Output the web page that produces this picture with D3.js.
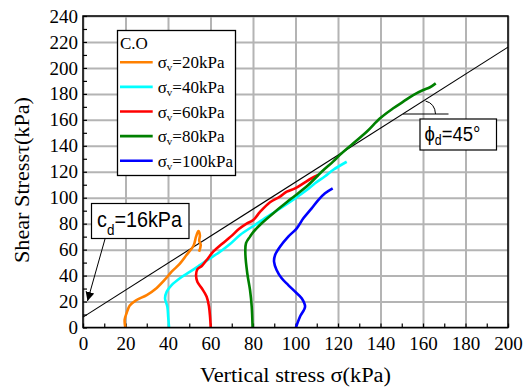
<!DOCTYPE html>
<html>
<head>
<meta charset="utf-8">
<script src="https://cdnjs.cloudflare.com/ajax/libs/d3/7.8.5/d3.min.js"></script>
<style>
  body { margin: 0; background: #fff; }
  svg { display: block; }
</style>
</head>
<body>
<div id="chart"></div>
<script>
// series: [sigma, tau] pairs
var s20 = [[19.9,0],[19.6,6],[20.5,11],[22,17],[25,21],[30,25],[34.7,30.5],[38.6,37],[41.7,43],[45.5,49],[48.8,56],[52,63],[53.2,70],[54.3,74.3],[55,71],[54.7,67],[55.4,63.5],[54.6,58.4]];
var s40 = [[40.5,0],[40.1,8],[39.7,16],[38.6,22.5],[39.4,27.6],[41.7,32.7],[45.6,38],[50.4,43],[55,48],[59.8,53.3],[64.5,58.4],[69.2,64.3],[73.9,71.3],[80.9,79],[86.4,85],[90.4,89.2],[99.8,99.5],[105.3,106],[109.2,111.1],[113.9,116.5],[117.8,121.5],[124.1,127.7]];
var s60 = [[60.1,0],[59.8,8],[59.3,16],[58.2,23.7],[55.9,30.2],[53.8,35.3],[53.2,40.4],[53.8,44.8],[55.9,47.4],[58.2,52],[61.3,58.4],[65.5,64.5],[69.5,70],[73.5,76],[77,80],[80.1,82.8],[83.3,89],[88,96.5],[92.7,100.8],[95.9,104.6],[99.8,107.2],[103.7,111.1],[107.6,115],[110.7,117.5]];
var s80 = [[79.8,0],[79.4,16],[78.6,28.9],[77.3,41.8],[76.4,57.2],[76.7,64.9],[78.6,70],[80.1,73.5],[84.1,80.3],[90.4,89.2],[98.2,99.5],[106,109.8],[112.3,120],[117.8,128],[120.9,133],[127.2,141.9],[133.5,150.8],[139.8,161.2],[146,168.9],[150.7,174],[155.4,179.1],[160.1,183],[163.3,185.1],[166,188.1]];
var s100 = [[100.2,0],[102.1,8.3],[104.5,16],[102.9,22.5],[99.8,27.6],[96.6,32.7],[93.5,37.9],[91.1,44.3],[89.9,50.7],[90.4,55.9],[92.7,62.2],[96.6,70],[100.6,76.4],[103.7,84.1],[107.6,91.8],[110.7,98.2],[113.9,103.4],[117.5,107.2]];

var seriesNames = ["20", "40", "60", "80", "100"];
var seriesColors = ["#ff8000", "#00ffff", "#ff0000", "#008000", "#0000ff"];
var seriesData = [s20, s40, s60, s80, s100];

// failure envelope  tau = c + sigma*tan(phi)
var envX = [0, 200];
var envY = [8, 216];

var xTicks = [0, 20, 40, 60, 80, 100, 120, 140, 160, 180, 200];
var yTicks = [0, 20, 40, 60, 80, 100, 120, 140, 160, 180, 200, 220, 240];

var W = 531, H = 387;
var m = {left: 83, right: 23, top: 16, bottom: 59.5};
var w = W - m.left - m.right, h = H - m.top - m.bottom;

var serif = "'Liberation Serif', 'Times New Roman', serif";
var sans = "'Liberation Sans', Arial, sans-serif";

var svg = d3.select("#chart").append("svg")
  .attr("width", W)
  .attr("height", H);

var g = svg.append("g").attr("transform", "translate(" + m.left + "," + m.top + ")");

var x = d3.scaleLinear().domain([0, 200]).range([0, w]);
var y = d3.scaleLinear().domain([0, 240]).range([h, 0]);

// grid
g.append("g")
  .attr("transform", "translate(0," + h + ")")
  .call(d3.axisBottom(x).tickValues(xTicks).tickSize(-h).tickFormat(""))
  .call(function(a) {
    a.select(".domain").remove();
    a.selectAll("line").attr("stroke", "#b4b4b4").attr("stroke-width", 2);
  });
g.append("g")
  .call(d3.axisLeft(y).tickValues(yTicks).tickSize(-w).tickFormat(""))
  .call(function(a) {
    a.select(".domain").remove();
    a.selectAll("line").attr("stroke", "#b4b4b4").attr("stroke-width", 2);
  });

// minor ticks (inside)
g.append("g")
  .attr("transform", "translate(0," + h + ")")
  .call(d3.axisBottom(x).ticks(20).tickSize(-4).tickFormat(""))
  .call(function(a) {
    a.select(".domain").remove();
    a.selectAll("line").attr("stroke", "#000").attr("stroke-width", 1.2);
  });
g.append("g")
  .call(d3.axisLeft(y).ticks(24).tickSize(-4).tickFormat(""))
  .call(function(a) {
    a.select(".domain").remove();
    a.selectAll("line").attr("stroke", "#000").attr("stroke-width", 1.2);
  });

// tick labels
g.append("g")
  .attr("transform", "translate(0," + h + ")")
  .call(d3.axisBottom(x).tickValues(xTicks).tickSize(0).tickPadding(9))
  .call(function(a) {
    a.select(".domain").remove();
    a.selectAll("text").attr("font-family", serif).attr("font-size", 19).attr("fill", "#000");
  });
g.append("g")
  .call(d3.axisLeft(y).tickValues(yTicks).tickSize(0).tickPadding(5))
  .call(function(a) {
    a.select(".domain").remove();
    a.selectAll("text").attr("font-family", serif).attr("font-size", 19).attr("fill", "#000");
  });

// envelope line
var line = d3.line()
  .x(function(d) { return x(d[0]); })
  .y(function(d) { return y(d[1]); });

g.append("path")
  .datum(envX.map(function(v, i) { return [v, envY[i]]; }))
  .attr("d", line)
  .attr("fill", "none")
  .attr("stroke", "#000")
  .attr("stroke-width", 1.1);

// test curves
var curve = d3.line()
  .x(function(d) { return x(d[0]); })
  .y(function(d) { return y(d[1]); })
  .curve(d3.curveCatmullRom);

g.selectAll(".series")
  .data(seriesData)
  .enter().append("path")
  .attr("class", "series")
  .attr("d", curve)
  .attr("fill", "none")
  .attr("stroke", function(d, i) { return seriesColors[i]; })
  .attr("stroke-width", 2.6)
  .attr("stroke-linejoin", "round");

// frame
g.append("rect")
  .attr("width", w)
  .attr("height", h)
  .attr("fill", "none")
  .attr("stroke", "#000")
  .attr("stroke-width", 1.5);

// legend
var lg = svg.append("g");
lg.append("rect")
  .attr("x", 117.5).attr("y", 30.5)
  .attr("width", 118).attr("height", 145)
  .attr("fill", "#fff")
  .attr("stroke", "#000")
  .attr("stroke-width", 1.3);
lg.append("text")
  .attr("x", 120).attr("y", 48.5)
  .attr("font-family", serif).attr("font-size", 17)
  .text("C.O");

var items = lg.selectAll(".item")
  .data(seriesNames)
  .enter().append("g")
  .attr("class", "item")
  .attr("transform", function(d, i) { return "translate(120," + (62.3 + i * 24.6) + ")"; });
items.append("line")
  .attr("x1", 0).attr("x2", 32.7)
  .attr("stroke", function(d, i) { return seriesColors[i]; })
  .attr("stroke-width", 2.6);
var it = items.append("text")
  .attr("x", 37.7).attr("y", 6)
  .attr("font-family", serif).attr("font-size", 17);
it.append("tspan").text("σ");
it.append("tspan").attr("font-size", 11).attr("dy", 3).text("v");
it.append("tspan").attr("dy", -3).text(function(d) { return "=" + d + "kPa"; });

// c_d annotation
svg.append("rect")
  .attr("x", 91.5).attr("y", 203.5)
  .attr("width", 97.5).attr("height", 35)
  .attr("fill", "#fff").attr("stroke", "#000").attr("stroke-width", 1.2);
var ct = svg.append("text")
  .attr("transform", "translate(97,227) scale(0.9,1)")
  .attr("font-family", sans).attr("font-size", 22);
ct.append("tspan").text("c");
ct.append("tspan").attr("font-size", 15).attr("dy", 8).text("d");
ct.append("tspan").attr("dy", -8).text("=16kPa");

svg.append("defs").append("marker")
  .attr("id", "arr")
  .attr("viewBox", "0 0 10 10")
  .attr("refX", 10).attr("refY", 5)
  .attr("markerWidth", 9).attr("markerHeight", 9)
  .attr("markerUnits", "userSpaceOnUse")
  .attr("orient", "auto")
  .append("path")
  .attr("d", "M0,0L10,5L0,10z")
  .attr("fill", "#000");
svg.append("line")
  .attr("x1", 105).attr("y1", 239)
  .attr("x2", 87.5).attr("y2", 301)
  .attr("stroke", "#000").attr("stroke-width", 1)
  .attr("marker-end", "url(#arr)");

// phi_d annotation
svg.append("line")
  .attr("x1", 403).attr("y1", 114)
  .attr("x2", 448.5).attr("y2", 114)
  .attr("stroke", "#000").attr("stroke-width", 1);
svg.append("path")
  .attr("d", "M425.5,101 Q435,103.5 435.5,114")
  .attr("fill", "none").attr("stroke", "#000").attr("stroke-width", 1);
svg.append("rect")
  .attr("x", 420).attr("y", 119)
  .attr("width", 76.5).attr("height", 31)
  .attr("fill", "#fff").attr("stroke", "#000").attr("stroke-width", 1.2);
var pt = svg.append("text")
  .attr("transform", "translate(424.5,140.5) scale(0.88,1)")
  .attr("font-family", sans).attr("font-size", 21);
pt.append("tspan").text("ϕ");
pt.append("tspan").attr("font-size", 14).attr("dy", 4).text("d");
pt.append("tspan").attr("dy", -4).text("=45°");

// axis titles
svg.append("text")
  .attr("x", 200).attr("y", 381.5)
  .attr("textLength", 191).attr("lengthAdjust", "spacingAndGlyphs")
  .attr("font-family", serif).attr("font-size", 20)
  .text("Vertical stress σ(kPa)");
svg.append("text")
  .attr("transform", "translate(29,263) rotate(-90)")
  .attr("textLength", 166).attr("lengthAdjust", "spacingAndGlyphs")
  .attr("font-family", serif).attr("font-size", 22)
  .text("Shear Stressτ(kPa)");
</script>
</body>
</html>
